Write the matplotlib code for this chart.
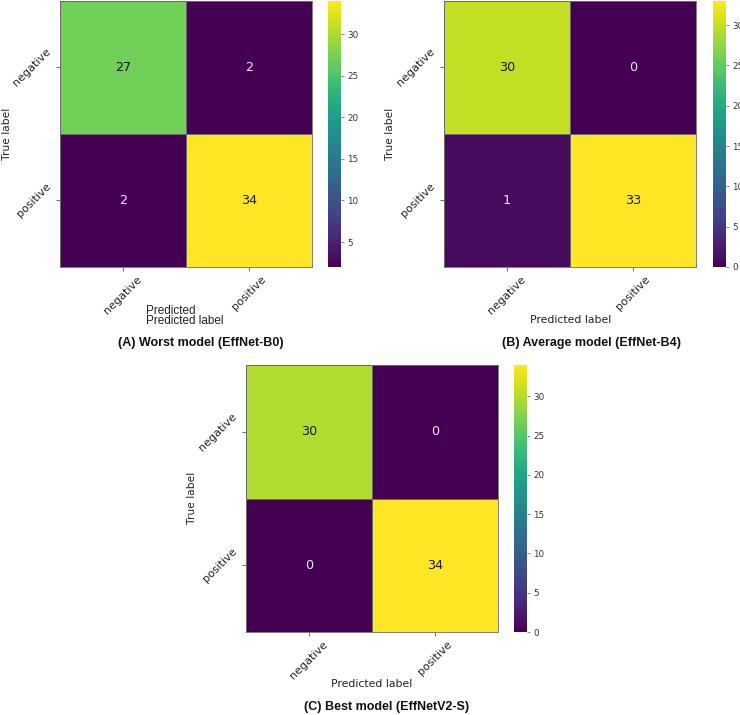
import numpy as np
import matplotlib
matplotlib.use("Agg")
import matplotlib.pyplot as plt

classes = ["negative", "positive"]
cm_a = [[27, 2], [2, 34]]
cm_b = [[30, 0], [1, 33]]
cm_c = [[30, 0], [0, 34]]
titles = ["(A) Worst model (EffNet-B0)", "(B) Average model (EffNet-B4)", "(C) Best model (EffNetV2-S)"]

W, H = 740, 715
fig = plt.figure(figsize=(W / 100, H / 100), dpi=100)

def box(x0, y0, x1, y1):
    return [x0 / W, 1 - y1 / H, (x1 - x0) / W, (y1 - y0) / H]

def fx(x):
    return x / W

def fy(y):
    return 1 - y / H

def draw(cm, axbox, cbbox, title, title_xy, ylab_xy, xlab_xy=None):
    cm = np.array(cm)
    ax = fig.add_axes(box(*axbox))
    cax = fig.add_axes(box(*cbbox))
    vmin, vmax = cm.min(), cm.max()
    mesh = ax.pcolormesh(np.arange(3), np.arange(3), cm, cmap="viridis",
                         vmin=vmin, vmax=vmax, edgecolor="#6a6a6a", linewidth=0.6)
    ax.set_xlim(0, 2)
    ax.set_ylim(2, 0)
    for i in range(2):
        for j in range(2):
            v = cm[i, j]
            frac = (v - vmin) / (vmax - vmin) if vmax > vmin else 0
            col = "#1a1a1a" if frac > 0.5 else "#f0e8f0"
            ax.text(j + 0.5, i + 0.5, str(v), ha="center", va="center",
                    fontsize=9.2, color=col)
    ax.set_xticks([0.5, 1.5])
    ax.set_yticks([0.5, 1.5])
    ax.set_xticklabels(classes, rotation=45, fontsize=8, ha="center", color="#222222")
    ax.set_yticklabels(classes, rotation=45, fontsize=8, va="center", color="#222222")
    ax.tick_params(length=3, width=0.6, color="#555555", pad=2)
    for s in ax.spines.values():
        s.set_color("#6a6a6a")
        s.set_linewidth(0.6)
    fig.text(fx(ylab_xy[0]), fy(ylab_xy[1]), "True label", rotation=90,
             ha="center", va="center", fontsize=7.7, color="#222222")
    if xlab_xy is None:
        fig.text(fx(146), fy(314), "Predicted", ha="left", va="baseline",
                 fontsize=8.5, family="Liberation Sans", color="#222222")
        fig.text(fx(146), fy(324), "Predicted label", ha="left", va="baseline",
                 fontsize=8.5, family="Liberation Sans", color="#222222")
    else:
        fig.text(fx(xlab_xy[0]), fy(xlab_xy[1]), "Predicted label", ha="center",
                 va="center", fontsize=7.8, color="#222222")
    cb = fig.colorbar(mesh, cax=cax)
    cb.outline.set_visible(False)
    cb.ax.tick_params(labelsize=6.3, length=2.5, width=0.5, color="#555555", pad=2,
                      labelcolor="#333333")
    cb.set_ticks([t for t in range(0, 35, 5) if vmin <= t <= vmax])
    fig.text(fx(title_xy[0]), fy(title_xy[1]), title, ha="center", va="center",
             fontsize=9, fontweight="bold", family="Liberation Sans", color="#111111")

draw(cm_a, (60, 1, 312, 267), (328, 1, 341, 267), titles[0], (201, 343), (7, 134))
draw(cm_b, (444, 1, 696, 267), (713, 1, 726, 267), titles[1], (592, 343), (390, 134), (571, 320))
draw(cm_c, (246, 365, 498, 632), (514, 365, 527, 632), titles[2], (387, 707), (192, 498), (372, 684))

fig.savefig("out.png", dpi=100, facecolor="white")
